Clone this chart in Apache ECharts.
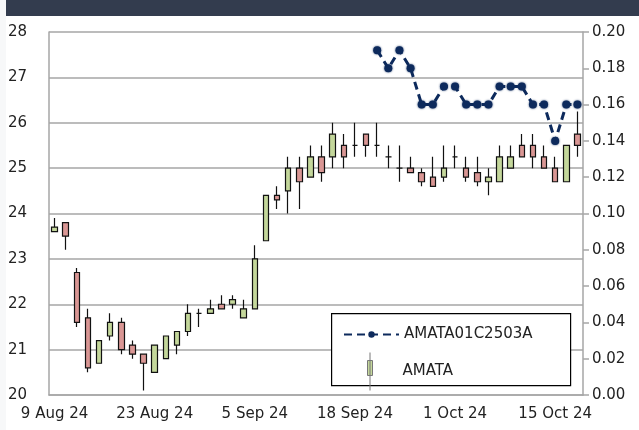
<!DOCTYPE html>
<html>
<head>
<meta charset="utf-8">
<script src="https://cdn.jsdelivr.net/npm/echarts@6/dist/echarts.min.js"></script>
<style>
  html, body { margin: 0; padding: 0; background: #fff; }
  #chart { width: 639px; height: 430px; }
</style>
</head>
<body>
<div id="chart"></div>
<script>
// trading days, 9 Aug 24 .. 17 Oct 24
var dates = [
  '9 Aug 24', '13 Aug 24', '14 Aug 24', '15 Aug 24', '16 Aug 24',
  '19 Aug 24', '20 Aug 24', '21 Aug 24', '22 Aug 24', '23 Aug 24',
  '26 Aug 24', '27 Aug 24', '28 Aug 24', '29 Aug 24', '30 Aug 24',
  '2 Sep 24', '3 Sep 24', '4 Sep 24', '5 Sep 24', '6 Sep 24',
  '9 Sep 24', '10 Sep 24', '11 Sep 24', '12 Sep 24', '13 Sep 24',
  '16 Sep 24', '17 Sep 24', '18 Sep 24', '19 Sep 24', '20 Sep 24',
  '23 Sep 24', '24 Sep 24', '25 Sep 24', '26 Sep 24', '27 Sep 24',
  '30 Sep 24', '1 Oct 24', '2 Oct 24', '3 Oct 24', '4 Oct 24',
  '7 Oct 24', '8 Oct 24', '9 Oct 24', '10 Oct 24', '11 Oct 24',
  '15 Oct 24', '16 Oct 24', '17 Oct 24'
];

// AMATA
var open = [23.6, 23.8, 22.7, 21.7, 20.7, 21.3, 21.6, 21.1, 20.9, 20.5,
  20.8, 21.1, 21.4, 21.8, 21.8, 22.0, 22.0, 21.7, 21.9, 23.4,
  24.4, 24.5, 25.0, 24.8, 25.25, 25.25, 25.5, 25.5, 25.75, 25.5,
  25.25, 25.0, 25.0, 24.9, 24.8, 24.8, 25.25, 25.0, 24.9, 24.7,
  24.7, 25.0, 25.5, 25.5, 25.25, 25.0, 24.7, 25.75];
var close = [23.7, 23.5, 21.6, 20.6, 21.2, 21.6, 21.0, 20.9, 20.7, 21.1,
  21.3, 21.4, 21.8, 21.8, 21.9, 21.9, 22.1, 21.9, 23.0, 24.4,
  24.3, 25.0, 24.7, 25.25, 24.9, 25.75, 25.25, 25.5, 25.5, 25.5,
  25.25, 25.0, 24.9, 24.7, 24.6, 25.0, 25.25, 24.8, 24.7, 24.8,
  25.25, 25.25, 25.25, 25.25, 25.0, 24.7, 25.5, 25.5];
var low = [23.6, 23.2, 21.5, 20.5, 20.7, 21.2, 20.9, 20.8, 20.1, 20.5,
  20.8, 20.9, 21.3, 21.5, 21.8, 21.9, 21.9, 21.7, 21.9, 23.4,
  24.1, 24.0, 24.1, 24.8, 24.7, 25.0, 25.0, 25.25, 25.25, 25.25,
  25.0, 24.7, 24.9, 24.6, 24.6, 24.7, 25.0, 24.7, 24.6, 24.4,
  24.7, 25.0, 25.25, 25.0, 25.0, 24.7, 24.7, 25.25];
var high = [23.9, 23.8, 22.8, 21.9, 21.2, 21.8, 21.7, 21.2, 20.9, 21.1,
  21.3, 21.4, 22.0, 21.9, 22.1, 22.2, 22.2, 22.1, 23.3, 24.4,
  24.6, 25.25, 25.25, 25.5, 25.5, 26.0, 25.75, 26.0, 25.75, 26.0,
  25.5, 25.5, 25.25, 25.0, 25.25, 25.5, 25.5, 25.25, 25.25, 25.0,
  25.5, 25.5, 25.75, 25.75, 25.5, 25.25, 25.5, 26.25];

// AMATA01C2503A (right axis)
var warrant = [null, null, null, null, null, null, null, null, null, null,
  null, null, null, null, null, null, null, null, null, null,
  null, null, null, null, null, null, null, null, null, 0.19,
  0.18, 0.19, 0.18, 0.16, 0.16, 0.17, 0.17, 0.16, 0.16, 0.16,
  0.17, 0.17, 0.17, 0.16, 0.16, 0.14, 0.16, 0.16];

var candles = [];
for (var i = 0; i < dates.length; i++) {
  candles.push([open[i], close[i], low[i], high[i]]);
}

var font = 'DejaVu Sans';
var gridColor = '#a6a6a6';
var navy = '#0d2a5c';

var myChart = echarts.init(document.getElementById('chart'));
var option = {
  animation: false,
  backgroundColor: '#fff',
  textStyle: { fontFamily: font },
  grid: { left: 49, right: 56, top: 32, bottom: 35 },
  graphic: [
    { type: 'rect', left: 0, top: 0, shape: { width: 6, height: 430 }, style: { fill: '#f7f8f9' }, z: 1 },
    { type: 'rect', left: 6, top: 0, shape: { width: 633, height: 16 }, style: { fill: '#333c4e' }, z: 1 },
    {
      type: 'rect', left: 331, top: 313, z: 5,
      shape: { width: 239, height: 72 },
      style: { fill: '#fff', stroke: '#000', lineWidth: 1.2 }
    }
  ],
  legend: [{
    left: 343, top: 327, padding: 0, z: 10,
    itemWidth: 55, itemHeight: 8,
    textStyle: { fontFamily: font, fontSize: 15, color: '#222' },
    data: ['AMATA01C2503A']
  }, {
    left: 367, top: 352, padding: 0, z: 10,
    itemWidth: 55, itemHeight: 38,
    textStyle: { fontFamily: font, fontSize: 15, color: '#222' },
    data: [{
      name: 'AMATA',
      icon: 'path://M3,0 L3,38 M0.5,8 L5.5,8 L5.5,23 L0.5,23 Z',
      itemStyle: { color: '#c4d79b', borderColor: '#777', borderWidth: 1 }
    }]
  }],
  xAxis: {
    type: 'category',
    data: dates,
    boundaryGap: true,
    axisLine: { lineStyle: { color: gridColor, width: 1.5 } },
    axisTick: { show: false },
    axisLabel: {
      interval: 8, margin: 12,
      color: '#222', fontSize: 15, fontFamily: font
    },
    splitLine: { show: false }
  },
  yAxis: [{
    type: 'value', min: 20, max: 28, interval: 1,
    axisLine: { show: true, lineStyle: { color: gridColor, width: 1.5 } },
    axisTick: { show: false },
    axisLabel: { color: '#222', fontSize: 15, fontFamily: font, margin: 22 },
    splitLine: { lineStyle: { color: gridColor, width: 1.5 } }
  }, {
    type: 'value', min: 0, max: 0.2, interval: 0.02, position: 'right',
    axisLine: { show: true, lineStyle: { color: gridColor, width: 1.5 } },
    axisTick: { show: true, length: 6, lineStyle: { color: gridColor, width: 1.5 } },
    axisLabel: {
      color: '#222', fontSize: 15, fontFamily: font, margin: 9,
      formatter: function (v) { return v.toFixed(2); }
    },
    splitLine: { show: false }
  }],
  series: [{
    name: 'AMATA',
    type: 'candlestick',
    data: candles,
    barWidth: 6,
    itemStyle: {
      color: '#c4d79b',
      color0: '#d99694',
      borderColor: '#111',
      borderColor0: '#111',
      borderColorDoji: '#111',
      borderWidth: 1.2
    }
  }, {
    name: 'AMATA01C2503A',
    type: 'line',
    yAxisIndex: 1,
    data: warrant,
    symbol: 'circle',
    symbolSize: 8,
    showSymbol: true,
    showAllSymbol: true,
    color: navy,
    lineStyle: { type: [8, 5], width: 3, color: navy },
    itemStyle: { color: navy, shadowBlur: 2, shadowColor: 'rgba(13,42,92,0.9)' },
    z: 4
  }]
};
myChart.setOption(option);
</script>
</body>
</html>
